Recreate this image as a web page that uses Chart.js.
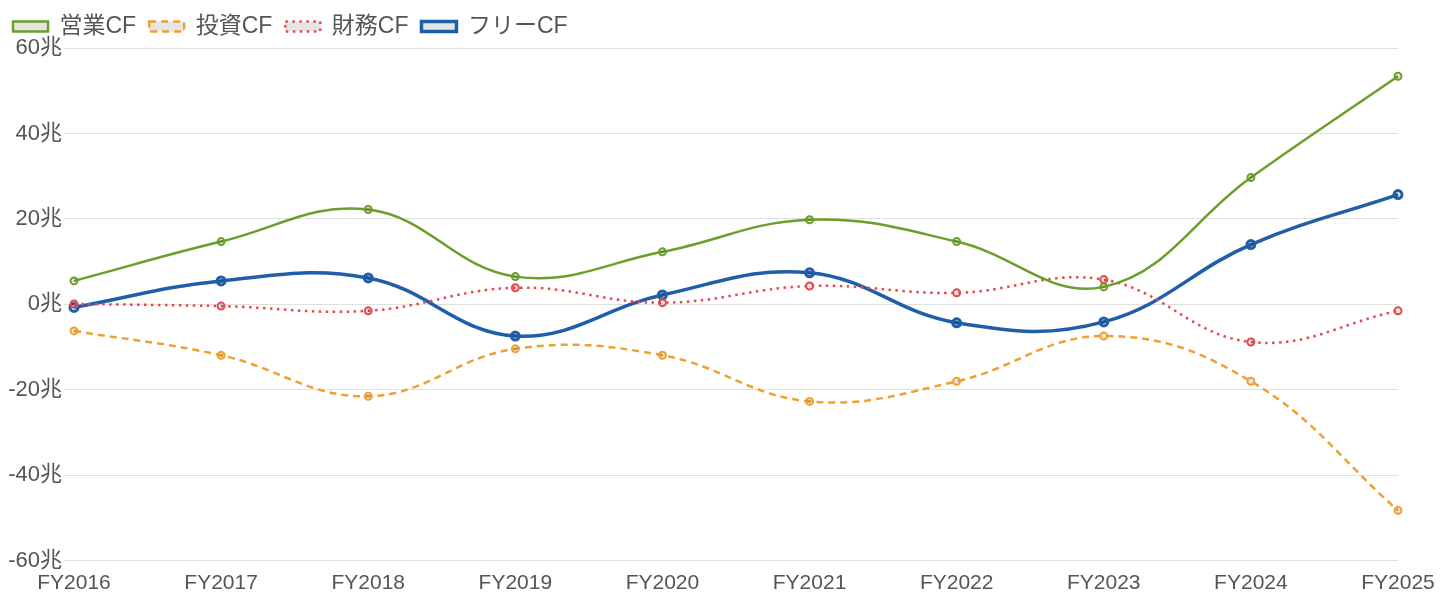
<!DOCTYPE html>
<html><head><meta charset="utf-8">
<script src="https://cdn.jsdelivr.net/npm/chart.js@4"></script>
<style>html,body{margin:0;padding:0;background:#fff}#wrap{width:1440px;height:600px}</style>
</head><body><div id="wrap"><canvas id="c"></canvas></div>
<script>
const categories = ["FY2016","FY2017","FY2018","FY2019","FY2020","FY2021","FY2022","FY2023","FY2024","FY2025"];
const operatingCF = [5.5, 14.7, 22.2, 6.5, 12.3, 19.8, 14.7, 4.1, 29.7, 53.4];
const investingCF = [-6.2, -11.9, -21.5, -10.4, -11.9, -22.7, -18.0, -7.4, -18.0, -48.2];
const financingCF = [0.1, -0.4, -1.5, 3.9, 0.4, 4.3, 2.7, 5.8, -8.8, -1.5];
const freeCF = [-0.7, 5.5, 6.2, -7.4, 2.2, 7.4, -4.3, -4.1, 14.0, 25.7];
const yTicks = [-60, -40, -20, 0, 20, 40, 60];

const FONT = "'Liberation Sans', Arial, 'Noto Sans CJK JP', sans-serif";
new Chart(document.getElementById('c'), {
  type: 'line',
  data: {
    labels: categories,
    datasets: [
      {label: '営業CF', data: operatingCF, borderColor: '#6a9f2a', borderWidth: 2.5, pointRadius: 3.5, pointBorderWidth: 2, tension: 0.4},
      {label: '投資CF', data: investingCF, borderColor: '#f0a030', borderWidth: 2.5, borderDash: [7, 5], pointRadius: 3.5, pointBorderWidth: 2, tension: 0.4},
      {label: '財務CF', data: financingCF, borderColor: '#e5484d', borderWidth: 2.5, borderDash: [2.5, 4.5], pointRadius: 3.5, pointBorderWidth: 2, tension: 0.4},
      {label: 'フリーCF', data: freeCF, borderColor: '#1f5ea8', borderWidth: 3.5, pointRadius: 4, pointBorderWidth: 3, tension: 0.4}
    ]
  },
  options: {
    responsive: true,
    maintainAspectRatio: false,
    animation: false,
    layout: {padding: {left: 0, right: 42, top: 2, bottom: 2}},
    plugins: {
      legend: {
        position: 'top', align: 'start',
        labels: {boxWidth: 35, boxHeight: 10, padding: 13, color: '#555', font: {family: FONT, size: 23}}
      },
      tooltip: {enabled: false}
    },
    scales: {
      x: {
        grid: {display: false},
        border: {display: false},
        ticks: {color: '#555', font: {family: FONT, size: 21}, maxRotation: 0, padding: 2}
      },
      y: {
        min: -60, max: 60,
        afterBuildTicks: (axis) => { axis.ticks = yTicks.map(v => ({value: v})); },
        afterFit: (axis) => { axis.width = 74; },
        grid: {color: '#e0e0e0', drawTicks: true, tickLength: 10},
        border: {display: false},
        ticks: {color: '#555', font: {family: FONT, size: 22}, padding: 2, callback: v => v + '兆'}
      }
    }
  }
});
</script></body></html>
